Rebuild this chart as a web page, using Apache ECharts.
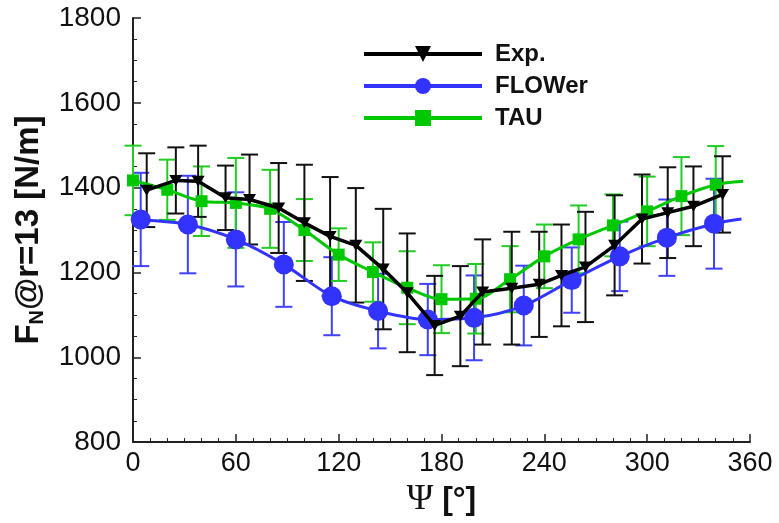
<!DOCTYPE html>
<html>
<head>
<meta charset="utf-8">
<script src="https://cdn.jsdelivr.net/npm/echarts@6/dist/echarts.min.js"></script>
<style>html,body{margin:0;padding:0;background:#fff}#c{width:779px;height:523px}</style>
</head>
<body>
<div id="c"></div>
<script>
// ---- data ----
var xTicks = [0, 60, 120, 180, 240, 300, 360];
var yTicks = [800, 1000, 1200, 1400, 1600, 1800];

var expX   = [8, 25, 38, 54, 68, 85, 100, 115, 130, 146, 160, 176, 191, 204, 221, 237, 250, 264, 281, 297, 312, 327, 344];
var expY   = [1394, 1417, 1415, 1376, 1372, 1352, 1317, 1285, 1264, 1208, 1152, 1075, 1097, 1154, 1163, 1172, 1193, 1213, 1264, 1326, 1341, 1356, 1384];
var expErr = [87, 78, 84, 76, 106, 106, 137, 140, 135, 142, 140, 117, 118, 124, 133, 124, 120, 130, 118, 105, 107, 94, 90];

var flowerX   = [4.5, 32, 60, 88, 116, 143, 172, 199, 228, 256, 284, 311.5, 339];
var flowerY   = [1325, 1313, 1278, 1219, 1144, 1109, 1089, 1093, 1122, 1182, 1238, 1282, 1315];
var flowerErr = [110, 115, 111, 100, 92, 88, 84, 100, 94, 77, 82, 90, 106];
var flowerStart = [0, 1327];
var flowerEnd   = [355, 1326];

var tauX   = [0, 20, 40, 60, 80, 100, 120, 140, 160, 180, 200, 220, 240, 260, 280, 300, 320, 340];
var tauY   = [1417, 1395, 1368, 1364, 1350, 1300, 1242, 1201, 1164, 1137, 1138, 1184, 1238, 1278, 1311, 1344, 1380, 1407];
var tauErr = [82, 71, 82, 106, 92, 73, 62, 70, 86, 80, 82, 78, 75, 80, 73, 82, 92, 91];
var tauEnd = [356, 1415];

// ---- build series data ----
function pts(xs, ys){ return xs.map(function(x,i){ return [x, ys[i]]; }); }
function bars(xs, ys, es){ return xs.map(function(x,i){ return [x, ys[i]-es[i], ys[i]+es[i]]; }); }

var flowerLine = [{value: flowerStart, symbol:'none'}].concat(pts(flowerX, flowerY)).concat([{value: flowerEnd, symbol:'none'}]);
var tauLine = pts(tauX, tauY).concat([{value: tauEnd, symbol:'none'}]);

function errRender(color){
  return function(params, api){
    var x = api.value(0), lo = api.value(1), hi = api.value(2);
    var a = api.coord([x, lo]), b = api.coord([x, hi]);
    var w = 8.5;
    var st = {stroke: color, lineWidth: 2};
    return {type:'group', children:[
      {type:'line', shape:{x1:a[0], y1:a[1], x2:b[0], y2:b[1]}, style:st},
      {type:'line', shape:{x1:a[0]-w, y1:a[1], x2:a[0]+w, y2:a[1]}, style:st},
      {type:'line', shape:{x1:b[0]-w, y1:b[1], x2:b[0]+w, y2:b[1]}, style:st}
    ]};
  };
}

var BLACK = '#000000', BLUE = '#3333ff', GREEN = '#00c800';
var SANS = 'Liberation Sans, Arial, sans-serif';

var chart = echarts.init(document.getElementById('c'), null, {renderer:'canvas'});
chart.setOption({
  animation: false,
  backgroundColor: '#ffffff',
  grid: {left: 133, right: 29, top: 18, bottom: 80, containLabel: false},
  legend: {
    orient: 'vertical', left: 357, top: 37, itemGap: 8,
    itemWidth: 118, itemHeight: 20,
    lineStyle: {width: 4},
    textStyle: {fontFamily: SANS, fontWeight: 'bold', fontSize: 24, color: '#111', padding:[0,0,0,8]},
    data: ['Exp.', 'FLOWer', 'TAU']
  },
  xAxis: {
    type: 'value', min: 0, max: 360, interval: 60,
    name: '{psi|Ψ}{b| [°]}', nameLocation: 'middle', nameGap: 36,
    nameTextStyle: {rich: {
      psi: {fontFamily: 'Liberation Serif, DejaVu Serif, serif', fontSize: 36, color:'#111'},
      b: {fontFamily: SANS, fontWeight: 'bold', fontSize: 32, color:'#111'}
    }},
    axisLine: {show: true, lineStyle: {color: '#222', width: 2}},
    axisTick: {show: true, inside: true, length: 8, lineStyle: {color: '#222', width: 1.5}},
    minorTick: {show: true, splitNumber: 6, length: 4, lineStyle: {color: '#222', width: 1}},
    axisLabel: {fontFamily: SANS, fontSize: 27, color: '#111', margin: 8, formatter: function(v){ return String(v); }},
    splitLine: {show: false}
  },
  yAxis: {
    type: 'value', min: 800, max: 1800, interval: 200,
    name: '{b|F}{s|N}{b|@r=13 [N/m]}', nameLocation: 'middle', nameGap: 80, nameRotate: 90,
    nameTextStyle: {rich: {
      b: {fontFamily: SANS, fontWeight: 'bold', fontSize: 33, color:'#111'},
      s: {fontFamily: SANS, fontWeight: 'bold', fontSize: 20, color:'#111', verticalAlign:'bottom', padding:[18,0,0,0]}
    }},
    axisLine: {show: true, lineStyle: {color: '#222', width: 2}},
    axisTick: {show: true, inside: true, length: 8, lineStyle: {color: '#222', width: 1.5}},
    minorTick: {show: true, splitNumber: 4, length: 4, lineStyle: {color: '#222', width: 1}},
    axisLabel: {fontFamily: SANS, fontSize: 28, color: '#111', margin: 12, formatter: function(v){ return String(v); }},
    splitLine: {show: false}
  },
  series: [
    {type:'line', name:'FLOWer', data: flowerLine, smooth: 0.3, symbol:'circle', symbolSize: 20,
      lineStyle:{color: BLUE, width: 3}, itemStyle:{color: BLUE}, z: 2},
    {type:'line', name:'TAU', data: tauLine, smooth: 0.3, symbol:'rect', symbolSize: 12,
      lineStyle:{color: GREEN, width: 3}, itemStyle:{color: GREEN}, z: 3},
    {type:'line', name:'Exp.', data: pts(expX, expY), symbol:'triangle', symbolRotate: 180, symbolSize: [13, 11],
      lineStyle:{color: BLACK, width: 3.5}, itemStyle:{color: BLACK}, z: 4},
    {type:'custom', name:'FLOWer err', renderItem: errRender('#4040ff'), data: bars(flowerX, flowerY, flowerErr), z: 1, clip: false, silent: true},
    {type:'custom', name:'TAU err', renderItem: errRender('#22cc22'), data: bars(tauX, tauY, tauErr), z: 1, clip: false, silent: true},
    {type:'custom', name:'Exp. err', renderItem: errRender('#111111'), data: bars(expX, expY, expErr), z: 1, clip: false, silent: true}
  ]
});
</script>
</body>
</html>
